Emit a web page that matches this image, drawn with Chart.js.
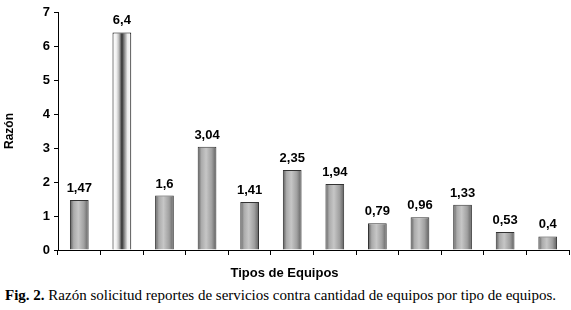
<!DOCTYPE html>
<html>
<head>
<meta charset="utf-8">
<script src="https://cdn.jsdelivr.net/npm/chart.js@4"></script>
<style>
  html, body { margin: 0; padding: 0; background: #fff; }
  #wrap { position: relative; width: 571px; height: 310px; }
  #chart { position: absolute; left: 0; top: 0; }
  #caption {
    position: absolute; left: 5px; top: 287px; white-space: nowrap;
    font-family: "Liberation Serif", "Times New Roman", serif; font-size: 15px; color: #000;
  }
</style>
</head>
<body>
<div id="wrap">
  <canvas id="chart" width="571" height="285"></canvas>
  <div id="caption"><b>Fig. 2.</b> Razón solicitud reportes de servicios contra cantidad de equipos por tipo de equipos.</div>
</div>
<script>
// Ratio per equipment type
const tipos = ['1', '2', '3', '4', '5', '6', '7', '8', '9', '10', '11', '12'];
const razon = [1.47, 6.4, 1.6, 3.04, 1.41, 2.35, 1.94, 0.79, 0.96, 1.33, 0.53, 0.4];
const destacado = 1; // the highlighted (white) bar
const yTicks = [0, 1, 2, 3, 4, 5, 6, 7];

const BAR_PCT = 0.44;
const FONT = '"Liberation Sans", Arial, sans-serif';

// Cylinder-like horizontal gradient for each bar
function barFill(ctx) {
    const chart = ctx.chart;
    const xs = chart.scales.x;
    if (!xs || !chart.chartArea) return '#999';
    const cx = xs.getPixelForValue(ctx.dataIndex);
    const w = (xs.width / tipos.length) * BAR_PCT;
    const g = chart.ctx.createLinearGradient(cx - w / 2, 0, cx + w / 2, 0);
    if (ctx.dataIndex === destacado) {
        g.addColorStop(0, '#ffffff');
        g.addColorStop(0.2, '#f2f2f2');
        g.addColorStop(0.35, '#b8b8b8');
        g.addColorStop(0.5, '#303030');
        g.addColorStop(0.6, '#757575');
        g.addColorStop(0.8, '#ececec');
        g.addColorStop(1, '#ffffff');
    } else {
        g.addColorStop(0, '#5a5a5a');
        g.addColorStop(0.2, '#ababab');
        g.addColorStop(0.45, '#c6c6c6');
        g.addColorStop(0.75, '#a0a0a0');
        g.addColorStop(1, '#5e5e5e');
    }
    return g;
}

// Value labels above the bars, with decimal comma
const valueLabels = {
    id: 'valueLabels',
    afterDatasetsDraw(chart) {
        const ctx = chart.ctx;
        const meta = chart.getDatasetMeta(0);
        ctx.save();
        ctx.font = 'bold 13px ' + FONT;
        ctx.fillStyle = '#000';
        ctx.textAlign = 'center';
        ctx.textBaseline = 'bottom';
        meta.data.forEach(function(bar, i) {
            ctx.fillText(String(razon[i]).replace('.', ','), bar.x, bar.y - 5);
        });
        ctx.restore();
    }
};

new Chart(document.getElementById('chart'), {
    type: 'bar',
    data: {
        labels: tipos,
        datasets: [{
            data: razon,
            backgroundColor: barFill,
            borderColor: function(ctx) { return ctx.dataIndex === destacado ? '#000' : '#333'; },
            borderWidth: 1,
            borderSkipped: 'bottom',
            barPercentage: BAR_PCT,
            categoryPercentage: 1
        }]
    },
    options: {
        responsive: false,
        animation: false,
        layout: { padding: { top: 12, right: 2, left: 0, bottom: 0 } },
        plugins: {
            legend: { display: false },
            tooltip: { enabled: false },
            title: {
                display: true,
                position: 'bottom',
                text: 'Tipos de Equipos',
                color: '#000',
                font: { family: FONT, size: 13, weight: 'bold' },
                padding: { top: 6, bottom: 4 }
            }
        },
        scales: {
            x: {
                grid: { offset: true, drawOnChartArea: false, color: '#000', tickLength: 5 },
                border: { color: '#000', width: 1 },
                ticks: { display: false },
                afterFit: function(scale) { scale.height = 9.4; }
            },
            y: {
                min: 0,
                max: 7,
                afterBuildTicks: function(scale) {
                    scale.ticks = yTicks.map(function(v) { return { value: v }; });
                },
                grid: { drawOnChartArea: false, color: '#000', tickLength: 4 },
                border: { color: '#000', width: 1 },
                ticks: {
                    color: '#000',
                    padding: 4,
                    font: { family: FONT, size: 13, weight: 'bold' }
                },
                title: {
                    display: true,
                    text: 'Razón',
                    color: '#000',
                    font: { family: FONT, size: 12, weight: 'bold' },
                    padding: { top: 2, bottom: 8 }
                },
                afterFit: function(scale) { scale.width = 58; }
            }
        }
    },
    plugins: [valueLabels]
});
</script>
</body>
</html>
